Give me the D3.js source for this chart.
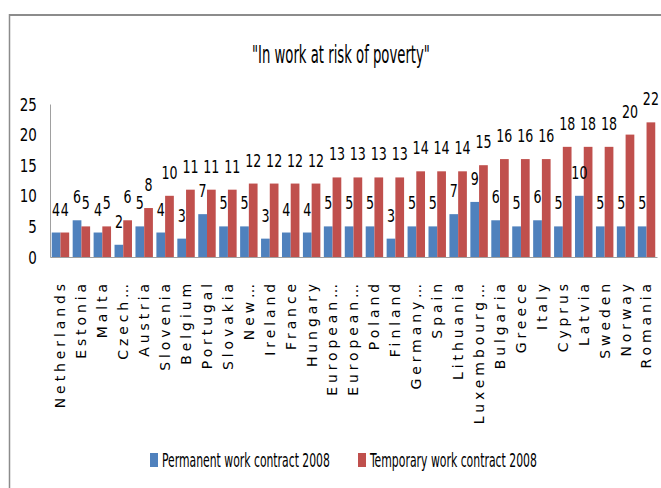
<!DOCTYPE html>
<html><head><meta charset="utf-8">
<script src="https://cdn.jsdelivr.net/npm/d3@7"></script>
<style>
body{margin:0;background:#fff;}
svg{display:block;}
</style></head>
<body><svg id="c" width="661" height="488"></svg>
<script>
const categories = ["Netherlands","Estonia","Malta","Czech…","Austria","Slovenia","Belgium","Portugal","Slovakia","New…","Ireland","France","Hungary","European…","European…","Poland","Finland","Germany…","Spain","Lithuania","Luxembourg…","Bulgaria","Greece","Italy","Cyprus","Latvia","Sweden","Norway","Romania"];
const permanent = [4,6,4,2,5,4,3,7,5,5,3,4,4,5,5,5,3,5,5,7,9,6,5,6,5,10,5,5,5];
const temporary = [4,5,5,6,8,10,11,11,11,12,12,12,12,13,13,13,13,14,14,14,15,16,16,16,18,18,18,20,22];
const seriesNames = ["Permanent work contract 2008","Temporary work contract 2008"];
const yTicks = [0,5,10,15,20,25];
const colors = ["#4F81BD","#C0504D"];

const svg = d3.select("#c");
const narrow = "'Liberation Sans Narrow','DejaVu Sans Condensed',sans-serif";

function fitText(sel, x0, y0, w){
  sel.each(function(){
    const n = this.getComputedTextLength();
    const s = w / n;
    d3.select(this).attr("transform",`translate(${x0},${y0}) scale(${s},1)`);
  });
}

// frame
svg.append("line").attr("x1",9.5).attr("x2",661).attr("y1",15).attr("y2",15).attr("stroke","#8c8c8c").attr("stroke-width",2);
svg.append("line").attr("x1",9.5).attr("x2",9.5).attr("y1",14).attr("y2",488).attr("stroke","#8c8c8c").attr("stroke-width",1.5);

// title
const title = svg.append("text").attr("x",0).attr("y",0)
  .style("font-family",narrow).style("font-size","24px").text('"In work at risk of poverty"');
fitText(title, 252, 63, 178);

const x = d3.scaleBand().domain(d3.range(categories.length)).range([50,657]).paddingInner(0).paddingOuter(0);
const x1 = d3.scaleBand().domain([0,1]).range([0,x.bandwidth()]).paddingInner(0).paddingOuter(0.2);
const y = d3.scaleLinear().domain([0,25]).range([257,104]);

// y axis
const yAxis = d3.axisLeft(y).tickValues(yTicks).tickSize(0).tickPadding(15);
const ga = svg.append("g").attr("transform","translate(50,0)").call(yAxis);
ga.select(".domain").attr("stroke","#a0a0a0");
ga.selectAll("text").attr("transform","scale(0.88,1)").attr("dy","0.36em")
  .style("font-family",narrow).style("font-size","17px").attr("fill","#000");

const data = categories.map((c,i)=>({i, vals:[permanent[i],temporary[i]]}));
const groups = svg.append("g").selectAll("g").data(data).join("g")
  .attr("transform",d=>`translate(${x(d.i)},0)`);
groups.selectAll("rect").data(d=>d.vals.map((v,k)=>({v,k}))).join("rect")
  .attr("x",d=>x1(d.k)).attr("width",x1.bandwidth())
  .attr("y",d=>y(d.v)).attr("height",d=>y(0)-y(d.v)).attr("fill",d=>colors[d.k]);
groups.selectAll("text.v").data(d=>d.vals.map((v,k)=>({v,k}))).join("text").attr("class","v")
  .attr("transform",d=>`translate(${x1(d.k)+x1.bandwidth()/2},${y(d.v)-17}) scale(0.78,1)`)
  .attr("text-anchor","middle")
  .style("font-family",narrow).style("font-size","18px").text(d=>d.v);

// x axis
const xAxis = d3.axisBottom(x).tickFormat(i=>categories[i]).tickSize(0).tickPadding(0);
const gx = svg.append("g").attr("transform","translate(0,257)").call(xAxis);
gx.select(".domain").attr("stroke","#a0a0a0");
gx.selectAll("text").attr("transform","translate(0,23) rotate(-90)").attr("text-anchor","end")
  .attr("x",0).attr("y",0).attr("dy","0.35em")
  .style("font-family","'DejaVu Sans',sans-serif").style("font-size","14px").style("letter-spacing","3.9px").attr("fill","#000");

// legend
const leg = [{x:150,w:168,t:seriesNames[0],c:colors[0]},{x:358,w:167,t:seriesNames[1],c:colors[1]}];
const lg = svg.append("g").selectAll("g").data(leg).join("g").attr("transform",d=>`translate(${d.x},453)`);
lg.append("rect").attr("width",8).attr("height",14).attr("fill",d=>d.c);
lg.append("text").style("font-family",narrow).style("font-size","20px").text(d=>d.t)
  .each(function(d){
    const n = this.getComputedTextLength();
    d3.select(this).attr("transform",`translate(12,14) scale(${d.w/n},1)`);
  });
</script></body></html>
